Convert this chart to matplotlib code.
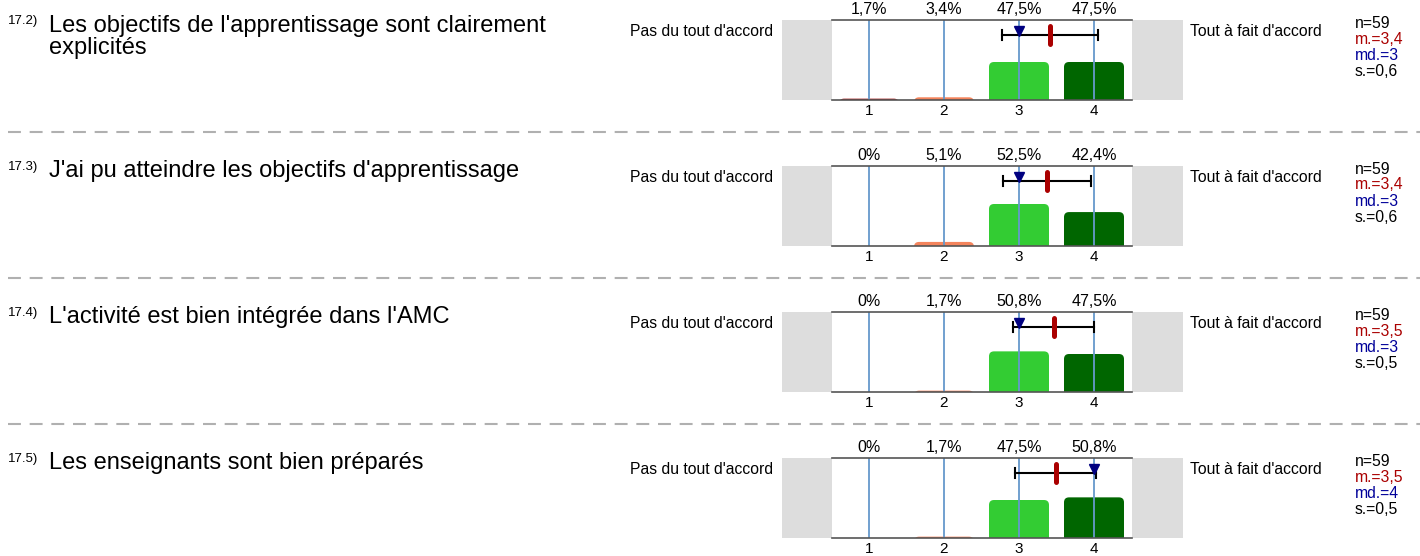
import matplotlib
matplotlib.use('Agg')
import matplotlib.pyplot as plt
from matplotlib.patches import FancyBboxPatch, Rectangle
from matplotlib.lines import Line2D

plt.rcParams['font.family'] = ['Liberation Sans', 'DejaVu Sans']

numeros = ['17.2)', '17.3)', '17.4)', '17.5)']
questions = ["Les objectifs de l'apprentissage sont clairement\nexplicités",
             "J'ai pu atteindre les objectifs d'apprentissage",
             "L'activité est bien intégrée dans l'AMC",
             "Les enseignants sont bien préparés"]
categories = [1, 2, 3, 4]
pourcentages = [[1.7, 3.4, 47.5, 47.5],
                [0.0, 5.1, 52.5, 42.4],
                [0.0, 1.7, 50.8, 47.5],
                [0.0, 1.7, 47.5, 50.8]]
n_reponses = [59, 59, 59, 59]
moyennes = [3.41, 3.37, 3.46, 3.49]
medianes = [3, 3, 3, 4]
ecarts = [0.64, 0.59, 0.54, 0.54]
gauche = "Pas du tout d'accord"
droite = "Tout à fait d'accord"

couleurs = ['#a01414', '#f4845c', '#33cc33', '#006600']

W, H = 1420, 556
fig = plt.figure(figsize=(W / 100, H / 100), dpi=100)


def fx(px):
    return px / W


def fy(py):
    return 1 - py / H


def virgule(v):
    return ('%.1f' % v).replace('.', ',')


PAS = 146  # hauteur d'un bloc en pixels

for k in range(4):
    dy = PAS * k
    # zone du graphique: 1..4 avec 75 px par categorie
    ax = fig.add_axes([fx(831.5), fy(100 + dy), fx(300), 80 / H])
    ax.set_xlim(0.5, 4.5)
    ax.set_ylim(0, 100)
    for s in ['left', 'right']:
        ax.spines[s].set_visible(False)
    for s in ['top', 'bottom']:
        ax.spines[s].set_color('#555555')
        ax.spines[s].set_linewidth(1.2)
        ax.spines[s].set_zorder(6)
    ax.set_yticks([])
    ax.set_xticks(categories)
    ax.set_xticklabels([str(c) for c in categories], fontsize=11)
    ax.tick_params(axis='x', length=0, pad=3)

    # cases grises de chaque cote
    for x0, w in [(-50 / 75 + 0.5, 50 / 75), (4.5, 51 / 75)]:
        ax.add_patch(Rectangle((x0, 0), w, 100, facecolor='#dddddd',
                               edgecolor='none', clip_on=False, zorder=0))

    # barres arrondies en haut
    r = 5 / 75
    asp = 75 / 0.8
    for c, p, col in zip(categories, pourcentages[k], couleurs):
        if p <= 0:
            continue
        ax.add_patch(FancyBboxPatch((c - 0.4, -r * asp), 0.8, p + r * asp,
                                    boxstyle='round,pad=0,rounding_size=%g' % r,
                                    mutation_aspect=asp, facecolor=col,
                                    edgecolor='none', zorder=2))
    for c in categories:
        ax.axvline(c, color='#6699cc', lw=1.3, zorder=3)

    # pourcentages au-dessus
    for c, p in zip(categories, pourcentages[k]):
        txt = virgule(p) + '%' if p > 0 else '0%'
        ax.annotate(txt, (c, 100), xytext=(0, 2.5), textcoords='offset points',
                    ha='center', va='bottom', fontsize=11.5, annotation_clip=False)

    # moyenne +/- ecart-type, mediane
    ye = 100 - 15 / 0.8
    m, sd = moyennes[k], ecarts[k]
    ax.plot([m - sd, m + sd], [ye, ye], color='black', lw=1.5, zorder=4)
    for xc in (m - sd, m + sd):
        ax.plot([xc, xc], [ye - 6.25, ye + 6.25], color='black', lw=1.5, zorder=4)
    ax.plot([m, m], [ye - 11, ye + 11], color='#aa0000', lw=3.6,
            solid_capstyle='round', zorder=5)
    ax.plot([medianes[k]], [100 - 10.5 / 0.8], marker='v', ms=7.5,
            color='#000080', mec='#000080', zorder=5)

    # libelles des extremes
    fig.text(fx(773), fy(31 + dy), gauche, ha='right', va='center', fontsize=11.3)
    fig.text(fx(1190), fy(31 + dy), droite, ha='left', va='center', fontsize=11.3)

    # statistiques
    stats = [('n=%d' % n_reponses[k], 'black'),
             ('m.=' + virgule(m), '#aa0000'),
             ('md.=%d' % medianes[k], '#000099'),
             ('s.=' + virgule(sd), 'black')]
    for i, (t, col) in enumerate(stats):
        fig.text(fx(1355), fy(23 + 16 * i + dy), t, ha='left', va='center',
                 fontsize=11.3, color=col)

    # question
    fig.text(fx(8), fy(15 + dy), numeros[k], ha='left', va='top', fontsize=9.5)
    nl = questions[k].count('\n')
    fig.text(fx(49), fy(31 + 23 * nl + dy), questions[k], ha='left',
             va='baseline', fontsize=17, linespacing=0.99)

    # separateur
    if k < 3:
        fig.add_artist(Line2D([fx(8), 1], [fy(132 + dy)] * 2, color='#b0b0b0',
                              lw=1.5, ls=(0, (6.2, 4.2))))

fig.savefig('out.png', dpi=100)
